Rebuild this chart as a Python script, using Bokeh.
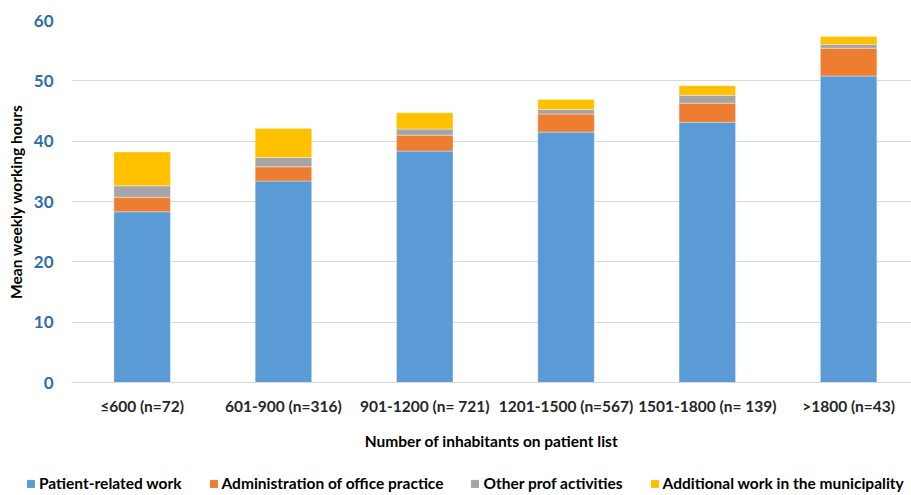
from bokeh.plotting import figure
from bokeh.layouts import column
from bokeh.models import ColumnDataSource, Range1d, FixedTicker, CustomJSTickFormatter, Legend, LegendItem
from bokeh.embed import file_html
from bokeh.resources import INLINE

categories = ["≤600 (n=72)", "601-900 (n=316)", "901-1200 (n= 721)",
              "1201-1500 (n=567)", "1501-1800 (n= 139)", ">1800 (n=43)"]
patient_related = [28.3, 33.4, 38.35, 41.5, 43.15, 50.8]
administration = [2.4, 2.35, 2.65, 3.0, 3.15, 4.6]
other_prof = [1.9, 1.55, 1.0, 0.75, 1.3, 0.65]
additional = [5.6, 4.8, 2.7, 1.65, 1.6, 1.3]

series_names = ["Patient-related work", "Administration of office practice",
                "Other prof activities", "Additional work in the municipality"]
keys = ["patient", "admin", "other", "additional"]
colors = ["#5B9BD5", "#ED7D31", "#A5A5A5", "#FFC000"]

FONT = "Lato"

src = ColumnDataSource(dict(
    x=list(range(len(categories))),
    patient=patient_related, admin=administration,
    other=other_prof, additional=additional,
))

p = figure(width=911, height=462, output_backend="svg", toolbar_location=None,
           x_range=Range1d(-0.5, 5.445), y_range=Range1d(0, 60),
           min_border_left=71, min_border_right=0, min_border_top=20,
           min_border_bottom=80)
p.outline_line_color = None
p.frame_align = False

rs = p.vbar_stack(keys, x="x", width=0.4, source=src, color=colors,
                  line_color="white", line_width=0.6, line_alpha=0.6)

# axes
p.xaxis.ticker = FixedTicker(ticks=list(range(len(categories))))
p.xaxis.formatter = CustomJSTickFormatter(args=dict(labels=categories),
                                          code="return labels[Math.round(tick)] || '';")
p.xaxis.axis_line_color = "#D9D9D9"
p.xaxis.major_tick_line_color = None
p.xaxis.minor_tick_line_color = None
p.xaxis.major_label_text_font = FONT
p.xaxis.major_label_text_font_style = "bold"
p.xaxis.major_label_text_font_size = "15.5px"
p.xaxis.major_label_text_color = "#262626"
p.xaxis.major_label_standoff = 8
p.xaxis.axis_label = "Number of inhabitants on patient list"
p.xaxis.axis_label_text_font = FONT
p.xaxis.axis_label_text_font_style = "bold"
p.xaxis.axis_label_text_font_size = "15.5px"
p.xaxis.axis_label_text_color = "#000000"
p.xaxis.axis_label_standoff = 14

p.yaxis.ticker = FixedTicker(ticks=[0, 10, 20, 30, 40, 50, 60])
p.yaxis.axis_line_color = None
p.yaxis.major_tick_line_color = None
p.yaxis.minor_tick_line_color = None
p.yaxis.major_label_text_font = FONT
p.yaxis.major_label_text_font_style = "bold"
p.yaxis.major_label_text_font_size = "17px"
p.yaxis.major_label_text_color = "#2F6EAB"
p.yaxis.major_label_standoff = 12
p.yaxis.axis_label = "Mean weekly working hours"
p.yaxis.axis_label_text_font = FONT
p.yaxis.axis_label_text_font_style = "bold"
p.yaxis.axis_label_text_font_size = "15.5px"
p.yaxis.axis_label_text_color = "#000000"
p.yaxis.axis_label_standoff = 6

p.xgrid.grid_line_color = None
p.ygrid.grid_line_color = "#D9D9D9"
p.ygrid.grid_line_width = 1

# legend strip below the chart (zero-height swatch renderers only feed the legend)
lg = figure(width=911, height=33, output_backend="svg", toolbar_location=None,
            x_range=Range1d(0, 1), y_range=Range1d(0, 1),
            min_border=0, min_border_left=0, min_border_right=0,
            min_border_top=0, min_border_bottom=0)
lg.frame_align = False
lg.axis.visible = False
lg.grid.visible = False
lg.outline_line_color = None
swatch = ColumnDataSource(dict(x=[0], patient=[0], admin=[0], other=[0], additional=[0]))
lrs = lg.vbar_stack(keys, x="x", width=0.0, source=swatch, color=colors)

legend = Legend(items=[LegendItem(label=n, renderers=[r]) for n, r in zip(series_names, lrs)],
                orientation="horizontal", location=(26, 3),
                label_text_font=FONT, label_text_font_style="bold",
                label_text_font_size="15.5px", label_text_color="#000000",
                glyph_width=9, glyph_height=9, label_standoff=4, spacing=27,
                padding=0, margin=0, border_line_color=None, background_fill_alpha=0)
lg.add_layout(legend, "center")

layout = column(p, lg, spacing=0)
open("out.html", "w").write(file_html(layout, INLINE))
